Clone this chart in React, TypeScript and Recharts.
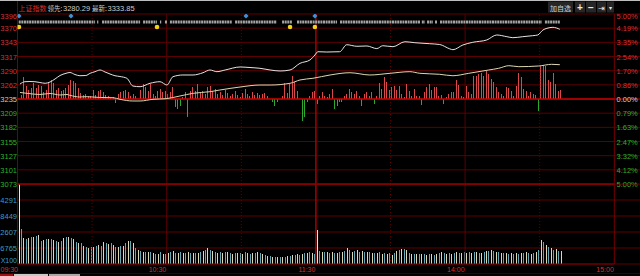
import React from 'react'
import {
  Bar,
  CartesianGrid,
  ComposedChart,
  Line,
  ReferenceLine,
  XAxis,
  YAxis,
} from 'recharts'

// ---- values ----
const indexName = '上证指数'
const leadLabel = '领先:'
const leadValue = '3280.29'
const lastLabel = '最新:'
const lastValue = '3333.85'
const toolbarItems = ['加自选', '+', '−', '⇥', '▾']

const priceLabels = ['3396', '3370', '3343', '3317', '3290', '3262', '3235', '3209', '3182', '3155', '3127', '3101', '3073']
const pctLabels = ['5.00%', '4.19%', '3.35%', '2.54%', '1.70%', '0.86%', '0.00%', '0.79%', '1.63%', '2.47%', '3.32%', '4.12%', '5.00%']
const volLabels = ['4291', '8449', '2607', '6765', 'X100']
const volTicks = [64, 48, 32, 16, 0]
const timeLabels = ['09:30', '10:30', '11:30', '14:00', '15:00']
const timeTicks = [0, 60, 120, 180, 240]
const halfHours = [0, 30, 60, 90, 120, 150, 180, 210, 240]

// minute index -> price (white line)
const priceMinutes = [0.5, 2.5, 4.5, 6.5, 8.5, 10.6, 12.6, 14.6, 16.6, 19, 20.6, 22.6, 24.6, 27, 28.7, 30.7, 32.7, 34.7, 36.7, 38.7, 40.7, 43.5, 45.9, 48.8, 52.8, 56.8, 59.6, 62, 66, 70.1, 74.1, 76.9, 79.7, 83, 89, 93, 97, 101.1, 105.1, 109.1, 113.1, 117.1, 119.1, 120.3, 123.9, 129.1, 131.9, 136, 140, 144, 146.4, 150.5, 155.3, 159.3, 165.3, 169.3, 173.3, 174.6, 178.6, 182.6, 188.2, 192.2, 196.3, 198.7, 202.7, 206.7, 208.7, 210.8, 212.4, 214.8, 217.6]
const priceValues = [3263.5, 3267.9, 3268.3, 3267.9, 3266.4, 3264.9, 3267.4, 3273.1, 3279.7, 3283.9, 3285.4, 3281.6, 3279.3, 3279.7, 3283.9, 3287.0, 3290.2, 3286.4, 3282.6, 3279.3, 3277.8, 3274.4, 3259.7, 3258.4, 3264.9, 3267.9, 3261.6, 3277.4, 3280.7, 3280.7, 3285.0, 3290.2, 3287.0, 3290.2, 3295.9, 3294.9, 3293.4, 3290.2, 3288.3, 3290.2, 3302.9, 3309.2, 3318.7, 3325.0, 3324.4, 3325.0, 3338.3, 3335.3, 3335.9, 3330.9, 3336.4, 3334.5, 3344.0, 3342.1, 3340.2, 3338.7, 3330.5, 3328.8, 3337.8, 3342.9, 3347.3, 3356.8, 3353.6, 3351.7, 3353.6, 3355.5, 3356.8, 3366.3, 3369.5, 3371.4, 3367.6]

// minute index -> average price (cream line)
const avgMinutes = [0.5, 3.3, 8.5, 12.6, 16.6, 19.4, 20.6, 24.6, 27, 32.7, 37.9, 40.7, 45.9, 48.8, 54, 59.2, 64.8, 70.1, 76.9, 80.9, 89, 97, 101.1, 109.1, 113.1, 118.3, 125.2, 133.2, 141.2, 149.3, 157.3, 161.3, 169.3, 174.6, 181, 189, 193, 197.1, 201.1, 209.1, 214.3, 217.6]
const avgValues = [3247.4, 3245.8, 3243.6, 3245.5, 3242.6, 3243.6, 3242.0, 3238.8, 3239.4, 3237.9, 3237.5, 3234.4, 3231.2, 3231.2, 3234.4, 3235.6, 3240.7, 3245.8, 3248.9, 3252.1, 3257.8, 3261.6, 3261.6, 3264.9, 3271.2, 3274.4, 3280.7, 3285.0, 3280.7, 3283.9, 3287.0, 3283.9, 3282.0, 3279.3, 3283.9, 3290.2, 3293.4, 3298.4, 3296.5, 3297.8, 3301.0, 3300.3]

// per-minute up/down bars drawn from the 3235 line
const tickDiff = [
  0, 4, 22, 13, 9, 11, 16, 11, 14, 13,
  7, 9, 16, 19, 16, 9, 11, 8, 9, 11,
  14, 19, 18, 16, 11, 6, 4, 5, 3, 3,
  9, 4, 8, 9, 7, 4, 3, 1, 2, -4,
  5, 7, 8, 9, 7, 3, 5, 3, 0, 9,
  15, 12, 8, 15, 5, 3, 8, 10, 7, 8,
  5, 7, 12, -8, -10, -7, 2, 7, -18, 8,
  12, 8, 15, 7, 8, 5, 12, 13, 8, 10,
  5, 7, 4, 9, 6, 3, 5, 8, 4, 2,
  6, 10, 5, 3, 7, 4, 6, 4, 5, 6,
  3, 0, -3, -7, -3, 0, 3, 16, 6, 15,
  23, 17, 8, 0, -22, -18, -3, 3, 7, 8,
  -5, 3, 7, 3, 2, 5, 10, -10, -7, -3,
  -3, 3, 5, 10, 7, 5, 8, 3, -7, 5,
  7, 3, 7, -5, 3, 16, 10, 22, 17, 9,
  12, 13, 9, 13, 5, 2, 15, 8, 3, 10,
  3, 3, -6, 7, 12, 15, 9, 12, 12, 3,
  4, -5, 2, 5, 7, 7, 19, 14, 3, 2,
  13, 7, 5, 23, 23, 25, 26, 23, 28, 25,
  20, 17, 12, 7, 5, 3, 12, 11, 8, 3,
  13, 26, 22, 10, 8, 3, 7, 5, 4, -12,
  33, 34, 33, 19, 17, 26, 15, 8, 9,
]

// per-minute volume
const volume = [
  80, 35, 26, 25, 26, 27, 27, 28, 29, 23,
  24, 25, 25, 25, 24, 23, 22, 23, 26, 27,
  27, 26, 25, 22, 21, 21, 18, 17, 16, 17,
  17, 18, 19, 18, 22, 21, 20, 21, 19, 17,
  17, 18, 18, 21, 23, 23, 21, 16, 14, 13,
  12, 12, 12, 12, 11, 10, 10, 12, 10, 10,
  11, 12, 13, 11, 11, 12, 11, 11, 12, 11,
  11, 11, 11, 12, 13, 14, 16, 14, 13, 12,
  11, 12, 11, 12, 12, 11, 10, 11, 11, 11,
  10, 12, 11, 10, 11, 11, 12, 11, 10, 9,
  8, 8, 7, 7, 7, 7, 7, 7, 8, 8,
  9, 9, 10, 9, 10, 11, 11, 12, 11, 10,
  34, 13, 12, 12, 12, 11, 12, 11, 11, 12,
  12, 13, 16, 14, 12, 13, 14, 12, 13, 12,
  12, 12, 11, 11, 11, 12, 10, 11, 10,
  11, 9, 11, 13, 14, 15, 15, 14, 11, 10,
  10, 10, 10, 10, 10, 9, 10, 10, 9,
  10, 11, 12, 11, 10, 11, 10, 11, 12, 11,
  11, 12, 11, 12, 11, 12, 12, 11, 11, 12,
  13, 13, 14, 13, 12, 12, 11, 11, 11, 10,
  11, 10, 11, 10, 11, 11, 12, 11, 10, 11,
  12, 14, 24, 22, 19, 17, 16, 14, 15, 13, 13,
]

// grey marker row: runs of minutes
const markerRuns = [[0, 30.7], [31.5, 32], [33.5, 48.8], [50, 55.6], [56.8, 57.3], [58.8, 59.6], [60.8, 85.8], [87, 103.8], [105.9, 109.9], [111.9, 128], [129.2, 161.4], [162.1, 163.4], [164.2, 166.6], [167.4, 168.2], [169.4, 210.4], [211.6, 217.6]]
const blueMarks = [0.1, 21, 91.4, 119.1]
const yellowMarks = [0.1, 55.6, 109.1, 119.1]

// ---- layout / theme ----
const LEFT = 17.5
const RIGHT_W = 25.7
const PLOT_R = 640 - RIGHT_W
const PREV = 3235
const STEP = 26.958333
const TOP_P = PREV + 6 * STEP
const BOT_P = PREV - 6 * STEP
const priceTicks = priceLabels.map((_, i) => PREV + (6 - i) * STEP)

const GRID = '#5c0000'
const EDGE = '#7a0000'
const BASE_RED = '#c80000'
const NOON_RED = '#a80000'
const TXT_RED = '#d83030'
const TXT_GREEN = '#2cb02c'
const TXT_CYAN = '#3c9cc4'
const TXT_GREY = '#cccccc'
const BAR_UP = '#d84a4a'
const BAR_DOWN = '#2ea82e'
const VOL_A = '#dcd8b4'
const VOL_B = '#60a6b8'
const NUM_FONT = "'Liberation Sans', Arial, sans-serif"
const CJK_FONT = "'Noto Sans CJK SC', sans-serif"
const NUM_SIZE = 7.5

const ROW_GREY = 77
const ROW_BLUE = 83
const ROW_YELLOW = 72

function vLineStyle(m: number) {
  if (m === 120) return { stroke: NOON_RED, strokeWidth: 1.5 }
  if (m === 0 || m === 240) return { stroke: EDGE, strokeWidth: 1 }
  if (m % 60 === 0) return { stroke: GRID, strokeWidth: 1 }
  return { stroke: GRID, strokeWidth: 1, strokeDasharray: '1 2' }
}

function priceIndex(v: number) {
  return Math.round((TOP_P - v) / STEP)
}

function PriceTick(props: any) {
  const i = priceIndex(props.payload.value)
  const fill = i < 6 ? TXT_RED : i === 6 ? TXT_GREY : TXT_GREEN
  return (
    <text x={LEFT - 0.5} y={props.y + (i === 0 ? 4.5 : 3)} textAnchor="end" fill={fill} fontSize={NUM_SIZE} fontFamily={NUM_FONT}>
      {priceLabels[i]}
    </text>
  )
}

function PctTick(props: any) {
  const i = priceIndex(props.payload.value)
  const fill = i < 6 ? TXT_RED : i === 6 ? TXT_GREY : TXT_GREEN
  return (
    <g>
      <line x1={PLOT_R} x2={640} y1={props.y} y2={props.y} stroke={i === 6 ? BASE_RED : GRID} />
      <text x={616.5} y={props.y + (i === 0 ? 4.5 : 3)} fill={fill} fontSize={NUM_SIZE} fontFamily={NUM_FONT}>
        {pctLabels[i]}
      </text>
    </g>
  )
}

function VolTick(props: any) {
  const i = volTicks.indexOf(props.payload.value)
  if (i < 0) return <g />
  const isUnit = volLabels[i] === 'X100'
  return (
    <text x={LEFT - 0.5} y={props.y + (isUnit ? -1 : 3)} textAnchor="end" fill={TXT_CYAN} fontSize={isUnit ? 7 : NUM_SIZE} fontFamily={NUM_FONT}>
      {volLabels[i]}
    </text>
  )
}

function RightLine(props: any) {
  return <line x1={PLOT_R} x2={640} y1={props.y} y2={props.y} stroke={GRID} />
}

function TimeTick(props: any) {
  const i = timeTicks.indexOf(props.payload.value)
  const first = i === 0
  return (
    <text x={first ? 0.5 : props.x - 0.5} y={88} textAnchor={first ? 'start' : 'end'} fill={TXT_RED} fontSize={7} fontFamily={NUM_FONT}>
      {timeLabels[i]}
    </text>
  )
}

// one-pixel crisp bar, works for values below zero too
function DiffBar(p: any) {
  const h = Math.abs(p.height || 0)
  if (!h) return <g />
  const top = Math.min(p.y, p.y + p.height)
  return <rect x={Math.round(p.x + p.width / 2 - 0.5)} y={Math.round(top)} width={1} height={Math.max(1, Math.round(h))} fill={p.payload.d >= 0 ? BAR_UP : BAR_DOWN} />
}

function VolBar(p: any) {
  const h = Math.abs(p.height || 0)
  if (!h) return <g />
  const top = Math.min(p.y, p.y + p.height)
  const i = p.index
  const fill = i === 0 || i === 120 ? '#ececec' : i % 2 === 0 ? VOL_A : VOL_B
  return <rect x={Math.round(p.x + p.width / 2 - 0.5)} y={Math.round(top)} width={1} height={Math.round(h)} fill={fill} />
}

function BlueDiamond(p: any) {
  if (p.cx == null) return <g key={p.index} />
  const { cx, cy } = p
  return <path key={p.index} d={`M${cx} ${cy - 2.6}L${cx + 2.6} ${cy}L${cx} ${cy + 2.6}L${cx - 2.6} ${cy}Z`} fill="#3c92d4" />
}

function YellowDot(p: any) {
  if (p.cx == null) return <g key={p.index} />
  return <circle key={p.index} cx={p.cx} cy={p.cy} r={2.3} fill="#f0d418" />
}

export default function App() {
  const diffRows = tickDiff.map((d, i) => ({ x: i + 0.5, d }))
  const priceRows = priceMinutes.map((m, i) => ({ x: m + 0.5, p: priceValues[i] }))
  const avgRows = avgMinutes.map((m, i) => ({ x: m + 0.5, p: avgValues[i] }))
  const volRows = volume.map((v, i) => ({ x: i + 0.5, v }))
  const blueRows = blueMarks.map((m) => ({ x: m + 0.5, d: ROW_BLUE }))
  const yellowRows = yellowMarks.map((m) => ({ x: m + 0.5, d: ROW_YELLOW }))

  return (
    <div style={{ position: 'fixed', left: 0, top: 0, width: 640, height: 276, background: '#000', overflow: 'hidden' }}>
      {/* header strip */}
      <svg width={640} height={14} style={{ position: 'absolute', left: 0, top: 0 }}>
        <line x1={0} x2={640} y1={0.5} y2={0.5} stroke="#bdbdbd" />
        <line x1={LEFT} x2={LEFT} y1={1} y2={14} stroke={EDGE} />
        <text x={18.5} y={10.5} fill={TXT_RED} fontSize={7} fontFamily={CJK_FONT}>{indexName}</text>
        <text x={47.5} y={10.5} fill={TXT_GREY} fontSize={6.5} fontFamily={CJK_FONT}>{leadLabel}</text>
        <text x={63} y={10.5} fill={TXT_GREY} fontSize={NUM_SIZE} fontFamily={NUM_FONT}>{leadValue}</text>
        <text x={92} y={10.5} fill={TXT_GREY} fontSize={6.5} fontFamily={CJK_FONT}>{lastLabel}</text>
        <text x={107.5} y={10.5} fill={TXT_GREY} fontSize={NUM_SIZE} fontFamily={NUM_FONT}>{lastValue}</text>
        <rect x={548} y={1.5} width={25} height={11} fill="#262626" />
        <rect x={575} y={1.5} width={10} height={11} fill="#262626" />
        <rect x={586} y={1.5} width={10} height={11} fill="#262626" />
        <rect x={597} y={1.5} width={9} height={11} fill="#262626" />
        <rect x={607} y={1.5} width={7} height={11} fill="#262626" />
        <text x={560.5} y={10.5} textAnchor="middle" fill={TXT_GREY} fontSize={7} fontFamily={CJK_FONT}>{toolbarItems[0]}</text>
        <text x={580} y={11} textAnchor="middle" fill="#e8e8e8" fontSize={10} fontWeight="bold" fontFamily={NUM_FONT}>{toolbarItems[1]}</text>
        <text x={591} y={11} textAnchor="middle" fill="#e8e8e8" fontSize={10} fontWeight="bold" fontFamily={NUM_FONT}>{toolbarItems[2]}</text>
        <text x={601.5} y={10.5} textAnchor="middle" fill="#e8e8e8" fontSize={8} fontFamily="'DejaVu Sans', sans-serif">{toolbarItems[3]}</text>
        <text x={610.5} y={10} textAnchor="middle" fill="#e8e8e8" fontSize={6} fontFamily="'DejaVu Sans', sans-serif">{toolbarItems[4]}</text>
      </svg>

      {/* price panel */}
      <div style={{ position: 'absolute', left: 0, top: 0 }}>
        <ComposedChart width={640} height={190} data={diffRows} margin={{ top: 14, right: 0, bottom: 6, left: 0 }}>
          <XAxis type="number" dataKey="x" domain={[0, 240]} hide allowDataOverflow />
          <YAxis domain={[BOT_P, TOP_P]} ticks={priceTicks} interval={0} width={LEFT} axisLine={false} tickLine={false} tick={PriceTick} allowDataOverflow />
          <YAxis yAxisId="r" orientation="right" domain={[BOT_P, TOP_P]} ticks={priceTicks} interval={0} width={RIGHT_W} axisLine={false} tickLine={false} tick={PctTick} allowDataOverflow />
          <YAxis yAxisId="d" dataKey="d" domain={[-85, 85]} hide allowDataOverflow />
          <CartesianGrid vertical={false} stroke={GRID} />
          {halfHours.map((m) => (
            <ReferenceLine key={m} x={m} {...vLineStyle(m)} />
          ))}
          <ReferenceLine y={BOT_P} stroke="#8a0000" strokeWidth={1.5} />
          <Bar dataKey="d" yAxisId="d" barSize={1} shape={DiffBar} isAnimationActive={false} />
          <ReferenceLine y={PREV} stroke={BASE_RED} strokeWidth={1.6} />
          <Line data={avgRows} dataKey="p" type="monotone" stroke="#dcd6b0" strokeWidth={1} dot={false} activeDot={false} isAnimationActive={false} />
          <Line data={priceRows} dataKey="p" type="monotone" stroke="#e4e4e4" strokeWidth={1} dot={false} activeDot={false} isAnimationActive={false} />
          {markerRuns.map(([a, b], i) => (
            <Line
              key={'run' + i}
              yAxisId="d"
              data={[{ x: a + 0.5, d: ROW_GREY }, { x: b + 0.5, d: ROW_GREY }]}
              dataKey="d"
              stroke="#a4a4a4"
              strokeWidth={3}
              strokeDasharray="2 0.6"
              dot={false}
              activeDot={false}
              isAnimationActive={false}
            />
          ))}
          <Line yAxisId="d" data={blueRows} dataKey="d" stroke="none" dot={BlueDiamond} activeDot={false} isAnimationActive={false} />
          <Line yAxisId="d" data={yellowRows} dataKey="d" stroke="none" dot={YellowDot} activeDot={false} isAnimationActive={false} />
        </ComposedChart>
      </div>

      {/* volume panel */}
      <div style={{ position: 'absolute', left: 0, top: 184 }}>
        <ComposedChart width={640} height={92} data={volRows} margin={{ top: 0, right: 0, bottom: 0, left: 0 }}>
          <XAxis type="number" dataKey="x" domain={[0, 240]} ticks={timeTicks} interval={0} height={12} axisLine={false} tickLine={false} tick={TimeTick} allowDataOverflow />
          <YAxis domain={[0, 80]} ticks={[0, 16, 32, 48, 64, 80]} interval={0} width={LEFT} axisLine={false} tickLine={false} tick={VolTick} allowDataOverflow />
          <YAxis yAxisId="r" orientation="right" domain={[0, 80]} ticks={[0, 16, 32, 48, 64, 80]} interval={0} width={RIGHT_W} axisLine={false} tickLine={false} tick={RightLine} allowDataOverflow />
          <CartesianGrid vertical={false} stroke={GRID} />
          {halfHours.map((m) => (
            <ReferenceLine key={m} x={m} {...vLineStyle(m)} />
          ))}
          <ReferenceLine y={80} stroke="#8a0000" strokeWidth={1.5} />
          <ReferenceLine y={0} stroke={EDGE} strokeWidth={1} />
          <Bar dataKey="v" barSize={1} shape={VolBar} isAnimationActive={false} />
        </ComposedChart>
      </div>

      {/* bottom strip */}
      <div style={{ position: 'absolute', left: 0, top: 273, width: 640, height: 1, background: '#3a0000' }} />
      <div style={{ position: 'absolute', left: 0, top: 274, width: 13, height: 2, background: '#a01010' }} />
      <div style={{ position: 'absolute', left: 14, top: 274, width: 34, height: 2, background: '#c8c8c8' }} />
      <div style={{ position: 'absolute', left: 49, top: 274, width: 31, height: 2, background: '#a8a8a8' }} />
    </div>
  )
}
